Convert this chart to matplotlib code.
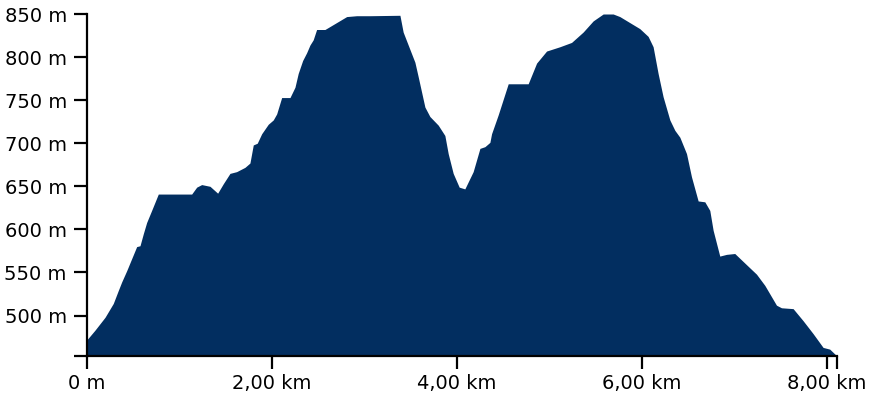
import matplotlib
matplotlib.use("Agg")
import matplotlib.pyplot as plt

plt.rcParams['font.family'] = ['DejaVu Sans']

# distance along route (km)
distance_km = [0.00, 0.086, 0.195, 0.284, 0.338, 0.375, 0.429, 0.483, 0.537, 0.573,
               0.609, 0.645, 0.699, 0.771, 0.951, 1.132, 1.186, 1.240, 1.330, 1.413,
               1.474, 1.546, 1.618, 1.708, 1.762, 1.798, 1.841, 1.889, 1.960, 2.014,
               2.051, 2.105, 2.195, 2.249, 2.284, 2.332, 2.375, 2.411, 2.446, 2.483,
               2.573, 2.808, 2.916, 3.059, 3.384, 3.419, 3.546, 3.582, 3.654, 3.708,
               3.798, 3.870, 3.906, 3.960, 4.025, 4.086, 4.122, 4.176, 4.249, 4.303,
               4.357, 4.375, 4.447, 4.555, 4.771, 4.862, 4.970, 5.114, 5.240, 5.365,
               5.474, 5.582, 5.690, 5.762, 5.870, 5.978, 6.068, 6.122, 6.176, 6.230,
               6.303, 6.357, 6.411, 6.483, 6.537, 6.609, 6.681, 6.735, 6.771, 6.843,
               6.916, 7.005, 7.132, 7.240, 7.330, 7.456, 7.510, 7.636, 7.744, 7.852,
               7.960, 8.032, 8.105]
# elevation (m)
elevation_m = [472, 483, 498, 514, 529, 539, 552, 566, 580, 581,
               595, 608, 622, 641, 641, 641, 649, 652, 650, 642,
               653, 665, 667, 672, 677, 698, 700, 711, 722, 727,
               734, 753, 753, 765, 781, 796, 805, 814, 820, 832,
               832, 847, 848, 848, 848.5, 829, 794, 777, 742, 731,
               721, 709, 688, 665, 649, 647, 655, 667, 694, 696,
               701, 711, 733, 769, 769, 793, 807, 812, 817, 829,
               842, 850, 850, 847, 840, 833, 824, 812, 781, 754,
               727, 715, 707, 688, 661, 633, 632, 622, 599, 569,
               571, 572, 559, 548, 535, 512, 509, 508, 494, 479,
               463, 461, 453.5]

x_ticks = [0, 2, 4, 6, 8]
x_tick_labels = ["0 m", "2,00 km", "4,00 km", "6,00 km", "8,00 km"]
y_ticks = [500, 550, 600, 650, 700, 750, 800, 850]
y_tick_labels = ["500 m", "550 m", "600 m", "650 m", "700 m", "750 m", "800 m", "850 m"]
x_max = 8.11
y_min = 453.5

fig = plt.figure(figsize=(8.7, 4.0), dpi=100)
ax = fig.add_axes([0.1, 0.111, 0.862, 0.854])

ax.fill_between(distance_km, elevation_m, y_min, color='#022e60', linewidth=0)

ax.set_xlim(0, x_max)
ax.set_ylim(y_min, 850)

ax.set_xticks(x_ticks + [x_max])
ax.set_xticklabels(x_tick_labels + [""])
ax.set_yticks([y_min] + y_ticks)
ax.set_yticklabels([""] + y_tick_labels)

for s in ['top', 'right']:
    ax.spines[s].set_visible(False)
for s in ['left', 'bottom']:
    ax.spines[s].set_linewidth(1.6)
    ax.spines[s].set_color('black')

ax.tick_params(axis='both', direction='out', length=9.5, width=1.6, colors='black',
               labelsize=14)
ax.tick_params(axis='y', pad=5)
ax.tick_params(axis='x', pad=4)

fig.savefig("out.png", dpi=100)
